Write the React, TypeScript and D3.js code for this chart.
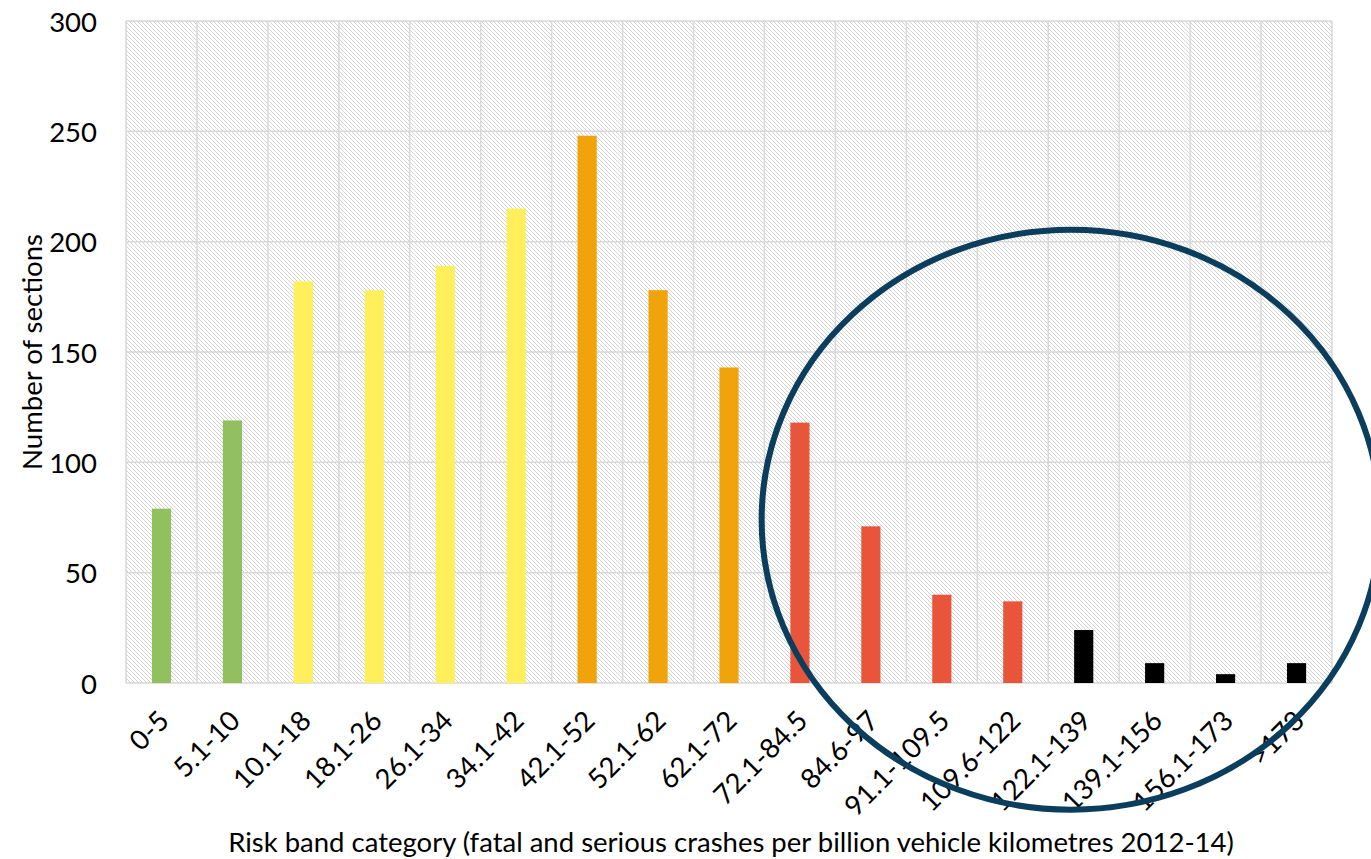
import React from "react";
import * as d3 from "d3";

const categories = [
  "0-5", "5.1-10", "10.1-18", "18.1-26", "26.1-34", "34.1-42", "42.1-52",
  "52.1-62", "62.1-72", "72.1-84.5", "84.6-97", "91.1-109.5", "109.6-122",
  "122.1-139", "139.1-156", "156.1-173", ">173",
];
const values = [79, 119, 182, 178, 189, 215, 248, 178, 143, 118, 71, 40, 37, 24, 9, 4, 9];
const bandColors = [
  "#92C05E", "#92C05E", "#FFEF5A", "#FFEF5A", "#FFEF5A", "#FFEF5A", "#F0A30A",
  "#F0A30A", "#F0A30A", "#E9553B", "#E9553B", "#E9553B", "#E9553B",
  "#000000", "#000000", "#000000", "#000000",
];
const yTicks = [0, 50, 100, 150, 200, 250, 300];
const yTitle = "Number of sections";
const xTitle = "Risk band category (fatal and serious crashes per billion vehicle kilometres 2012-14)";
// highlight ellipse in data units: center (category position, value), radii (categories, value)
const highlight = { cx: 13.32, cy: 74, rx: 4.36, ry: 131.4 };

const W = 1371;
const H = 859;
const M = { left: 126, right: 1332, top: 21, bottom: 683 };
const FONT = "Lato, 'Open Sans', sans-serif";
const FS = 27.5;

export default function App() {
  const x = d3.scaleBand<string>().domain(categories).range([M.left, M.right]).padding(0);
  const xPos = d3.scaleLinear().domain([0, categories.length]).range([M.left, M.right]);
  const y = d3.scaleLinear().domain([0, 300]).range([M.bottom, M.top]);
  const bw = x.bandwidth();
  const barW = bw * 0.27;

  const ex = xPos(highlight.cx);
  const ey = y(highlight.cy);
  const erx = xPos(highlight.rx) - xPos(0);
  const ery = y(0) - y(highlight.ry);

  return (
    <svg
      width={W}
      height={H}
      style={{ position: "absolute", left: 0, top: 0, background: "#fff" }}
      fontFamily={FONT}
    >
      <defs>
        <pattern id="hatch" patternUnits="userSpaceOnUse" width={4} height={4}>
          <rect width={4} height={4} fill="#ffffff" />
          <path d="M-1,-1 L5,5 M-1,3 L1,5 M3,-1 L5,1" stroke="#d4d4d4" strokeWidth={1} />
        </pattern>
      </defs>
      <rect
        x={M.left}
        y={M.top}
        width={M.right - M.left}
        height={M.bottom - M.top}
        fill="url(#hatch)"
      />
      {yTicks.map((t) => (
        <line key={"h" + t} x1={M.left} x2={M.right} y1={y(t)} y2={y(t)} stroke="#d9d9d9" strokeWidth={1.5} />
      ))}
      {d3.range(categories.length + 1).map((i) => (
        <line key={"v" + i} x1={xPos(i)} x2={xPos(i)} y1={M.top} y2={M.bottom} stroke="#d9d9d9" strokeWidth={1.5} />
      ))}
      {categories.map((c, i) => (
        <rect
          key={c}
          x={(x(c) as number) + bw / 2 - barW / 2}
          y={y(values[i])}
          width={barW}
          height={y(0) - y(values[i])}
          fill={bandColors[i]}
        />
      ))}
      {yTicks.map((t) => (
        <text key={"yt" + t} x={97} y={y(t)} textAnchor="end" dominantBaseline="central" fontSize={FS} fill="#000">
          {t}
        </text>
      ))}
      {categories.map((c) => {
        const cx = (x(c) as number) + bw / 2 + 2;
        const cy = 715;
        return (
          <text
            key={"xt" + c}
            transform={`translate(${cx},${cy}) rotate(-45)`}
            textAnchor="end"
            dominantBaseline="central"
            fontSize={FS}
            fill="#000"
          >
            {c}
          </text>
        );
      })}
      <text
        transform={`translate(31,${(M.top + M.bottom) / 2}) rotate(-90)`}
        textAnchor="middle"
        dominantBaseline="central"
        fontSize={FS}
        fill="#000"
      >
        {yTitle}
      </text>
      <text x={731} y={852} textAnchor="middle" fontSize={FS} fill="#000">
        {xTitle}
      </text>
      <ellipse cx={ex} cy={ey} rx={erx} ry={ery} fill="none" stroke="#0B3D5C" strokeWidth={6} />
    </svg>
  );
}
